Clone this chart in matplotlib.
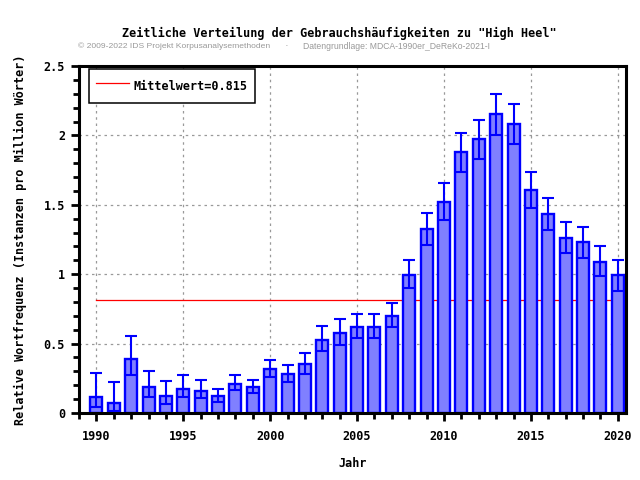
import numpy as np
import matplotlib
matplotlib.use("Agg")
import matplotlib.pyplot as plt
from matplotlib.ticker import MultipleLocator

# data
years = list(range(1990, 2021))
freq = [0.113, 0.07, 0.39, 0.19, 0.125, 0.175, 0.161, 0.125, 0.211, 0.19,
        0.319, 0.283, 0.355, 0.528, 0.579, 0.622, 0.622, 0.701, 0.997, 1.328,
        1.522, 1.878, 1.972, 2.152, 2.08, 1.604, 1.431, 1.263, 1.23, 1.09, 0.992]
err_hi = [0.29, 0.22, 0.557, 0.305, 0.233, 0.276, 0.24, 0.175, 0.274, 0.24,
          0.384, 0.348, 0.434, 0.629, 0.68, 0.716, 0.716, 0.795, 1.10, 1.443,
          1.659, 2.02, 2.111, 2.30, 2.228, 1.739, 1.551, 1.378, 1.342, 1.205, 1.102]
err_lo = [0.04, 0.017, 0.274, 0.117, 0.065, 0.117, 0.11, 0.081, 0.166, 0.146,
          0.262, 0.226, 0.283, 0.449, 0.492, 0.54, 0.54, 0.62, 0.903, 1.213,
          1.39, 1.739, 1.83, 2.005, 1.94, 1.479, 1.321, 1.155, 1.119, 0.989, 0.881]
mean_val = 0.815

title = 'Zeitliche Verteilung der Gebrauchshäufigkeiten zu "High Heel"'
sub_left = "© 2009-2022 IDS Projekt Korpusanalysemethoden"
sub_right = "Datengrundlage: MDCA-1990er_DeReKo-2021-I"

mono = ["DejaVu Sans Mono"]
sans = ["Liberation Sans", "DejaVu Sans"]

fig = plt.figure(figsize=(6.4, 4.8), dpi=100)
ax = fig.add_axes([0.1234, 0.1396, 0.8547, 0.7229])

yerr = [np.array(freq) - np.array(err_lo), np.array(err_hi) - np.array(freq)]

# mean line sits behind the bars
ax.plot([years[0], years[-1]], [mean_val, mean_val], color="red", lw=0.9,
        zorder=1, label="Mittelwert=0.815")
ax.bar(years, freq, width=0.69, color="#8080ff", edgecolor="#0000ff",
       linewidth=1.7, zorder=2)
ax.errorbar(years, freq, yerr=yerr, fmt="none", ecolor="#0000ff",
            elinewidth=1.5, capsize=4.5, capthick=1.5, zorder=3)

ax.set_xlim(1989.0, 2020.47)
ax.set_ylim(0, 2.5)
ax.xaxis.set_major_locator(MultipleLocator(5))
ax.xaxis.set_minor_locator(MultipleLocator(1))
ax.yaxis.set_major_locator(MultipleLocator(0.5))
ax.yaxis.set_minor_locator(MultipleLocator(0.1))
ax.set_yticks([0, 0.5, 1, 1.5, 2, 2.5])
ax.set_yticklabels(["0", "0.5", "1", "1.5", "2", "2.5"])

ax.grid(True, which="major", color="#999999", linestyle=(0, (2, 3)), lw=0.9, zorder=0)
ax.set_axisbelow(True)

for s in ax.spines.values():
    s.set_linewidth(2.2)
ax.tick_params(which="major", direction="out", length=6, width=2)
ax.tick_params(which="minor", direction="out", length=4, width=2)
ax.tick_params(axis="x", which="major", pad=6)
ax.tick_params(axis="y", which="major", pad=4)
for lab in ax.get_xticklabels() + ax.get_yticklabels():
    lab.set_family(mono)
    lab.set_fontweight("bold")
    lab.set_fontsize(8.5)

ax.set_xlabel("Jahr", family=mono, fontweight="bold", fontsize=8.5, labelpad=10)
ax.set_ylabel("Relative Wortfrequenz (Instanzen pro Million Wörter)", family=mono,
              fontweight="bold", fontsize=8.5, labelpad=12)

leg = ax.legend(loc="upper left", bbox_to_anchor=(0.018, 0.991), fancybox=False,
                edgecolor="black", framealpha=1, handlelength=2.8,
                handletextpad=0.4, handleheight=2.2,
                prop={"family": mono, "weight": "bold", "size": 8.5},
                borderpad=0.6, borderaxespad=0)
leg.get_frame().set_linewidth(1.1)

fig.text(0.53, 0.931, title, ha="center", va="center", family=mono,
         fontweight="bold", fontsize=8.5)

# grey credit line, font size fitted to the width it takes in the reference
fig.canvas.draw()
renderer = fig.canvas.get_renderer()
for txt, x0, w_target in [(sub_left, 78, 192), (sub_right, 303, 187)]:
    t = fig.text(x0 / 640, 0.904, txt, ha="left", va="center", family=sans,
                 fontsize=8, color="#999999")
    w = t.get_window_extent(renderer).width
    t.set_fontsize(8 * w_target / w)
fig.text(287 / 640, 0.904, "·", ha="center", va="center", family=sans,
         fontsize=8, color="#999999")

fig.savefig("out.png", dpi=100)
